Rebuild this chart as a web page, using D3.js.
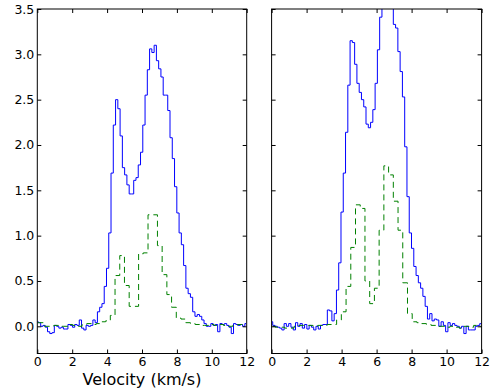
<!DOCTYPE html>
<html>
<head>
<meta charset="utf-8">
<script src="https://cdn.jsdelivr.net/npm/d3@7"></script>
<style>
  body { margin: 0; background: #fff; }
  svg { display: block; font-family: "DejaVu Sans", sans-serif; }
</style>
</head>
<body>
<div id="chart"></div>
<script>
// channel grids (km/s)
var blueStart = 0, blueStep = 0.13;
var greenStep = 0.27;
var greenStartLeft = 0, greenStartRight = 0.07;

// left panel, fine channels (blue solid)
var leftBlue = [
  0.05, 0.04, 0.00, 0.01, -0.01, -0.06, -0.08, -0.07, 0.01, 0.00,
  -0.02, -0.01, -0.03, -0.03, 0.02, 0.01, -0.01, 0.02, 0.01, 0.07,
  -0.02, -0.04, 0.01, 0.00, 0.01, 0.07, 0.04, 0.16, 0.21, 0.25,
  0.44, 0.64, 1.03, 1.69, 2.22, 2.50, 2.40, 2.10, 1.75, 1.67,
  1.56, 1.46, 1.46, 1.61, 1.64, 1.78, 1.92, 2.22, 2.55, 2.83,
  3.06, 3.02, 3.10, 2.93, 2.84, 2.75, 2.55, 2.55, 2.38, 2.08,
  1.85, 1.54, 1.25, 1.03, 0.90, 0.67, 0.42, 0.36, 0.32, 0.16,
  0.11, 0.13, 0.11, 0.07, 0.03, 0.00, 0.00, 0.03, 0.01, 0.02,
  -0.06, 0.03, 0.02, 0.03, 0.01, -0.01, -0.08, 0.03, 0.02, 0.01,
  0.02, 0.00, 0.03
];

// left panel, coarse channels (green dashed)
var leftGreen = [
  0.04, 0.04, 0.00, 0.00, 0.01, 0.00, 0.00, 0.02, 0.01, 0.00,
  0.02, 0.03, 0.02, 0.03, 0.05, 0.06, 0.12, 0.56, 0.78, 0.45,
  0.22, 0.22, 0.80, 0.81, 1.23, 1.23, 0.89, 0.57, 0.35, 0.21,
  0.09, 0.08, 0.04, 0.03, 0.02, 0.01, 0.01, 0.02, 0.01, 0.02,
  0.01, 0.00, 0.01, 0.02, 0.02
];

// right panel
var rightBlue = [
  0.05, 0.01, 0.00, -0.01, -0.02, -0.04, 0.03, 0.00, 0.03, -0.01,
  -0.04, 0.04, 0.00, 0.03, -0.02, 0.02, -0.03, 0.01, -0.01, -0.04,
  0.00, -0.03, 0.01, 0.02, 0.02, 0.18, 0.17, 0.06, 0.14, 0.40,
  0.70, 1.26, 1.69, 2.14, 2.66, 3.15, 3.13, 2.89, 2.68, 2.58,
  2.50, 2.42, 2.23, 2.19, 2.25, 2.39, 2.68, 3.05, 3.41, 3.58,
  3.70, 3.78, 3.72, 3.58, 3.33, 3.29, 3.03, 2.81, 2.53, 1.98,
  1.43, 1.03, 0.86, 0.66, 0.56, 0.48, 0.42, 0.33, 0.22, 0.08,
  0.14, 0.06, 0.08, 0.07, 0.00, 0.05, 0.01, -0.06, 0.04, 0.01,
  0.03, 0.01, 0.00, -0.02, 0.00, -0.08, 0.00, -0.04, -0.04, -0.04,
  0.00, 0.01, 0.03
];

var rightGreen = [
  0.00, -0.01, -0.01, -0.02, -0.02, 0.00, 0.01, 0.01, 0.01, 0.00,
  0.01, 0.01, 0.02, 0.02, 0.07, 0.16, 0.44, 0.87, 1.34, 1.30,
  0.50, 0.25, 0.42, 1.06, 1.77, 1.67, 1.38, 1.06, 0.48, 0.14,
  0.05, 0.04, 0.03, 0.02, 0.01, 0.00, 0.00, -0.01, 0.00, -0.01,
  -0.02, 0.00, -0.01, 0.01, 0.00
];

var xTicks = [0, 2, 4, 6, 8, 10, 12];
var yTicks = [0, 0.5, 1, 1.5, 2, 2.5, 3, 3.5];
var xLabel = "Velocity (km/s)";

var width = 494, height = 391;
var plotTop = 9, plotBottom = 353.5;

var panels = [
  {x0: 37.3, x1: 246.7, blue: leftBlue, green: leftGreen, gStart: greenStartLeft, yLabels: true},
  {x0: 271.6, x1: 481.6, blue: rightBlue, green: rightGreen, gStart: greenStartRight, yLabels: false}
];

var svg = d3.select("#chart").append("svg")
    .attr("width", width)
    .attr("height", height);

svg.append("rect").attr("width", width).attr("height", height).attr("fill", "#fff");

function styleAxis(g) {
    g.select(".domain").remove();
    g.selectAll("line").attr("stroke", "#000").attr("stroke-width", 1);
    g.selectAll("text")
        .attr("fill", "#000")
        .style("font-family", "'DejaVu Sans', sans-serif")
        .style("font-size", "12.5px");
}

panels.forEach(function(p, i) {
    var x = d3.scaleLinear().domain([0, 12]).range([p.x0, p.x1]);
    var y = d3.scaleLinear().domain([-0.3, 3.5]).range([plotBottom, plotTop]);

    var clipId = "clip" + i;
    svg.append("clipPath").attr("id", clipId)
        .append("rect")
        .attr("x", p.x0).attr("y", plotTop)
        .attr("width", p.x1 - p.x0).attr("height", plotBottom - plotTop);

    var line = d3.line()
        .curve(d3.curveStep)
        .x(function(d) { return x(d[0]); })
        .y(function(d) { return y(d[1]); });

    var g = svg.append("g").attr("clip-path", "url(#" + clipId + ")");

    g.append("path")
        .datum(p.blue.map(function(v, j) { return [blueStart + j * blueStep, v]; }))
        .attr("d", line)
        .attr("fill", "none")
        .attr("stroke", "#0000ff")
        .attr("stroke-width", 1);

    g.append("path")
        .datum(p.green.map(function(v, j) { return [p.gStart + j * greenStep, v]; }))
        .attr("d", line)
        .attr("fill", "none")
        .attr("stroke", "#008000")
        .attr("stroke-width", 1)
        .attr("stroke-dasharray", "6,4");

    // ticks inside on all four sides
    svg.append("g")
        .attr("transform", "translate(0," + plotBottom + ")")
        .call(d3.axisBottom(x).tickValues(xTicks).tickFormat(d3.format("d")).tickSize(-4).tickPadding(4))
        .call(styleAxis);

    svg.append("g")
        .attr("transform", "translate(0," + plotTop + ")")
        .call(d3.axisTop(x).tickValues(xTicks).tickFormat("").tickSize(-4))
        .call(styleAxis);

    svg.append("g")
        .attr("transform", "translate(" + p.x0 + ",0)")
        .call(d3.axisLeft(y).tickValues(yTicks)
            .tickFormat(p.yLabels ? d3.format(".1f") : "")
            .tickSize(-4).tickPadding(3))
        .call(styleAxis);

    svg.append("g")
        .attr("transform", "translate(" + p.x1 + ",0)")
        .call(d3.axisRight(y).tickValues(yTicks).tickFormat("").tickSize(-4))
        .call(styleAxis);

    svg.append("rect")
        .attr("x", p.x0).attr("y", plotTop)
        .attr("width", p.x1 - p.x0).attr("height", plotBottom - plotTop)
        .attr("fill", "none")
        .attr("stroke", "#000")
        .attr("stroke-width", 1);
});

svg.append("text")
    .attr("x", (panels[0].x0 + panels[0].x1) / 2)
    .attr("y", 385)
    .attr("text-anchor", "middle")
    .style("font-size", "16px")
    .attr("fill", "#000")
    .text(xLabel);
</script>
</body>
</html>
